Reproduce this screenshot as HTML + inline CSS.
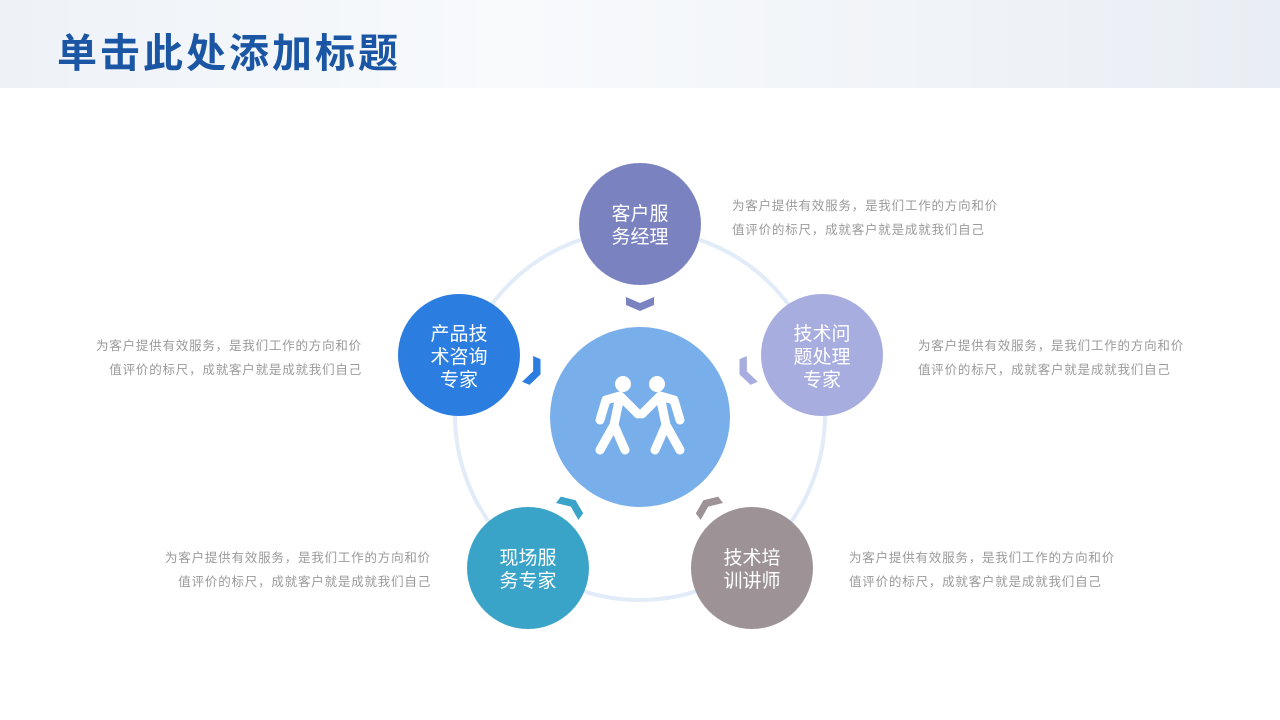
<!DOCTYPE html>
<html><head><meta charset="utf-8"><style>
body{margin:0;width:1280px;height:720px;background:#fff;position:relative;overflow:hidden;font-family:"Liberation Sans","Noto Sans CJK SC",sans-serif}
.hdr{position:absolute;left:0;top:0;width:1280px;height:88px;background:linear-gradient(90deg,#eef2f7 0%,#f8fafc 40%,#f1f4f8 70%,#e9eef4 100%)}
.title{position:absolute;left:57px;top:28px;font-size:40px;font-weight:bold;color:#1b56a5;letter-spacing:3px;line-height:52px}
.p{position:absolute;font-size:12.5px;color:#9a9a9a;line-height:24px;letter-spacing:0.8px;white-space:nowrap}
.r{text-align:right}
</style></head><body>
<div class="hdr"></div>
<div class="title">单击此处添加标题</div>
<svg width="1280" height="720" style="position:absolute;left:0;top:0" font-family="Liberation Sans, Noto Sans CJK SC, sans-serif">
<circle cx="640" cy="415" r="185" fill="none" stroke="#e1ecf8" stroke-width="4"/>
<circle cx="640" cy="417" r="90" fill="#78aeea"/>
<g fill="#fff" stroke="#fff" stroke-linecap="round" stroke-linejoin="round">
<circle cx="623" cy="384" r="8" stroke="none"/>
<circle cx="657" cy="384" r="8" stroke="none"/>
<path d="M600 420 L606 400 L620 396 L638 414 M620 396 L614 425 L600 450 M614 425 L625 450" fill="none" stroke-width="9"/>
<path d="M680 420 L674 400 L660 396 L642 414 M660 396 L666 425 L680 450 M666 425 L655 450" fill="none" stroke-width="9"/>
</g>
<g font-size="19" fill="#fff" text-anchor="middle">
<circle cx="640" cy="224" r="61" fill="#7b82c0"/>
<text x="640" y="220">客户服</text><text x="640" y="243">务经理</text>
<circle cx="822" cy="355" r="61" fill="#a8ade0"/>
<text x="822" y="340">技术问</text><text x="822" y="363">题处理</text><text x="822" y="386">专家</text>
<circle cx="459" cy="355" r="61" fill="#2b7de0"/>
<text x="459" y="340">产品技</text><text x="459" y="363">术咨询</text><text x="459" y="386">专家</text>
<circle cx="528" cy="568" r="61" fill="#3aa3c8"/>
<text x="528" y="564">现场服</text><text x="528" y="587">务专家</text>
<circle cx="752" cy="568" r="61" fill="#9d9396"/>
<text x="752" y="564">技术培</text><text x="752" y="587">训讲师</text>
</g>
<g>
<polygon points="-14,-8 0,-2 14,-8 14,0 0,6 -14,0" fill="#7b82c0" transform="translate(640,305)"/>
<polygon points="-14,-8 0,-2 14,-8 14,0 0,6 -14,0" fill="#2b7de0" transform="translate(535,372) rotate(-67)"/>
<polygon points="-14,-8 0,-2 14,-8 14,0 0,6 -14,0" fill="#a8ade0" transform="translate(745,372) rotate(67)"/>
<polygon points="-14,-8 0,-2 14,-8 14,0 0,6 -14,0" fill="#3aa3c8" transform="translate(572,505) rotate(-143)"/>
<polygon points="-14,-8 0,-2 14,-8 14,0 0,6 -14,0" fill="#9d9396" transform="translate(707,505) rotate(143)"/>
</g>
</svg>
<div class="p" style="left:732px;top:194px">为客户提供有效服务，是我们工作的方向和价<br>值评价的标尺，成就客户就是成就我们自己</div>
<div class="p r" style="right:918px;top:334px">为客户提供有效服务，是我们工作的方向和价<br>值评价的标尺，成就客户就是成就我们自己</div>
<div class="p" style="left:918px;top:334px">为客户提供有效服务，是我们工作的方向和价<br>值评价的标尺，成就客户就是成就我们自己</div>
<div class="p r" style="right:849px;top:546px">为客户提供有效服务，是我们工作的方向和价<br>值评价的标尺，成就客户就是成就我们自己</div>
<div class="p" style="left:849px;top:546px">为客户提供有效服务，是我们工作的方向和价<br>值评价的标尺，成就客户就是成就我们自己</div>
</body></html>
